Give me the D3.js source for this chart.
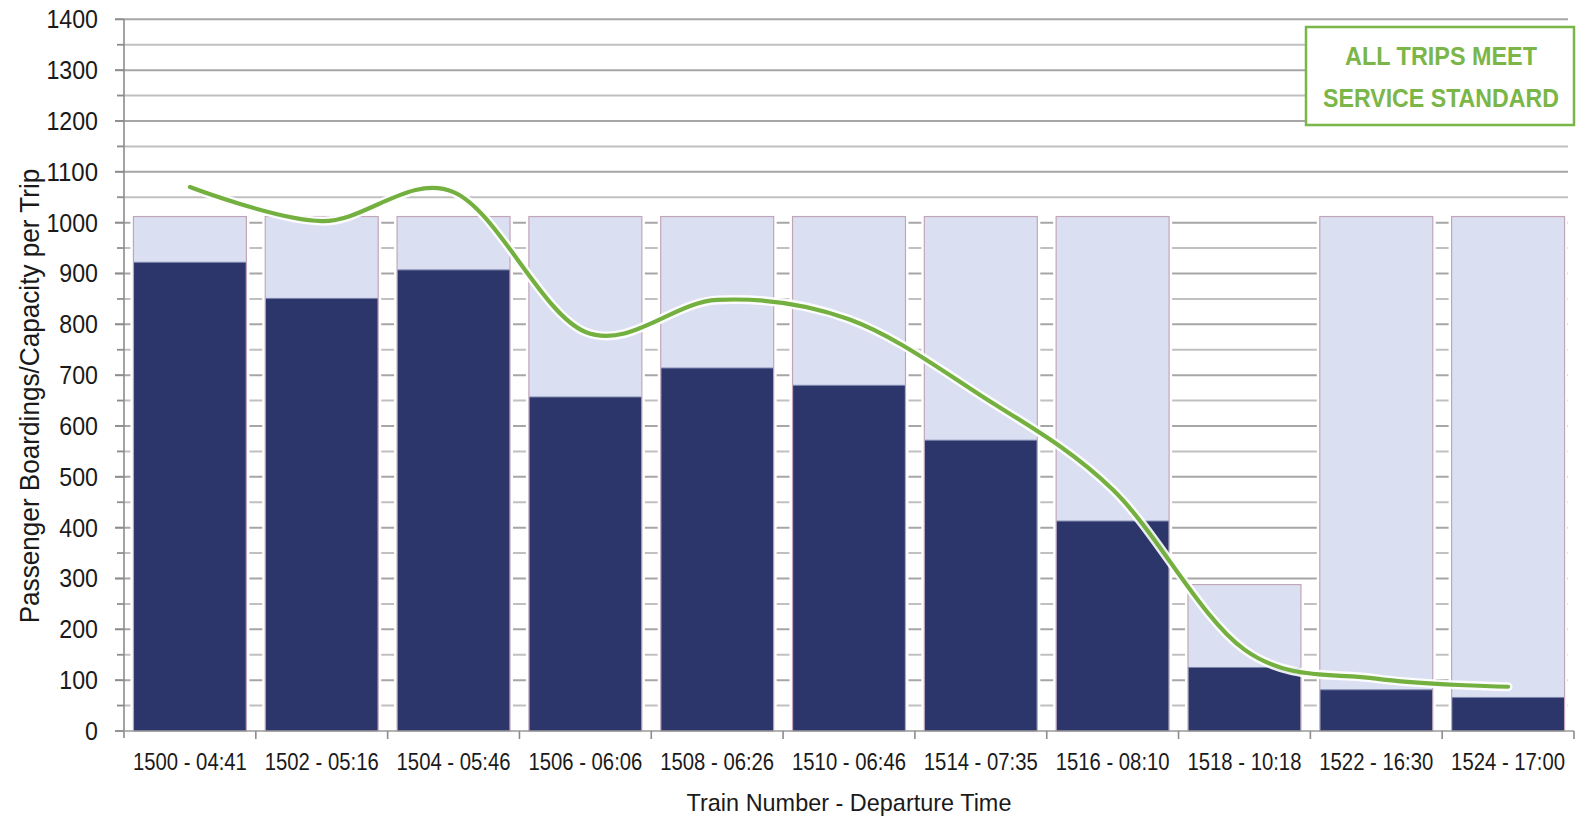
<!DOCTYPE html>
<html>
<head>
<meta charset="utf-8">
<script src="https://cdn.jsdelivr.net/npm/d3@7"></script>
<style>
  html, body { margin: 0; padding: 0; background: #fff; }
  svg { display: block; font-family: "Liberation Sans", Arial, sans-serif; }
</style>
</head>
<body>
<svg id="chart" width="1576" height="821"></svg>
<script>
const categories = ["1500 - 04:41","1502 - 05:16","1504 - 05:46","1506 - 06:06","1508 - 06:26","1510 - 06:46","1514 - 07:35","1516 - 08:10","1518 - 10:18","1522 - 16:30","1524 - 17:00"];
const capacity  = [1012,1012,1012,1012,1012,1012,1012,1012,288,1012,1012];
const boardings = [922,851,907,657,714,680,572,413,125,81,66];
const peakLoad  = [1070,1003,1060,785,848,810,660,475,160,103,87];
const yTicks = [0,100,200,300,400,500,600,700,800,900,1000,1100,1200,1300,1400];
const yMinorTicks = [50,150,250,350,450,550,650,750,850,950,1050,1150,1250,1350];
const xTitle = "Train Number - Departure Time";
const yTitle = "Passenger Boardings/Capacity per Trip";
const noteLines = ["ALL TRIPS MEET", "SERVICE STANDARD"];

(function () {
const svg = d3.select("#chart");
const pLeft = 124, pRight = 1574, pTop = 19.3, pBottom = 731;

const x = d3.scaleBand().domain(categories).range([pLeft, pRight]).paddingInner(0.143).paddingOuter(0.0715);
const y = d3.scaleLinear().domain([0, 1400]).range([pBottom, pTop]);

// helper: squeeze text horizontally to a target width
function fitText(sel, tx, ty, target, rotate) {
  sel.each(function (d, i) {
    const node = this;
    const w = node.getComputedTextLength();
    const t = typeof target === "function" ? target(d, i) : target;
    const s = Math.min(1, t / w);
    const X = typeof tx === "function" ? tx(d, i) : tx;
    const Y = typeof ty === "function" ? ty(d, i) : ty;
    d3.select(node).attr("x", 0).attr("y", 0)
      .attr("transform", `translate(${X},${Y})${rotate ? " rotate(-90)" : ""} scale(${s},1)`);
  });
}

// gridlines
const grid = svg.append("g");
grid.selectAll("line.minor").data(yMinorTicks).join("line")
  .attr("x1", 117).attr("x2", 1568)
  .attr("y1", d => y(d)).attr("y2", d => y(d))
  .attr("stroke", "#c0c0c0").attr("stroke-width", 2);
grid.selectAll("line.major").data(yTicks.filter(d => d > 0)).join("line")
  .attr("x1", 115).attr("x2", 1568)
  .attr("y1", d => y(d)).attr("y2", d => y(d))
  .attr("stroke", "#a6a6a6").attr("stroke-width", 2);

// bars
const data = categories.map((c, i) => ({c, cap: capacity[i], b: boardings[i], p: peakLoad[i]}));
const bars = svg.append("g");
bars.selectAll("rect.halo").data(data).join("rect")
  .attr("x", d => x(d.c) - 3).attr("width", x.bandwidth() + 6)
  .attr("y", d => y(d.cap) - 3).attr("height", d => pBottom - y(d.cap) + 3)
  .attr("fill", "#fff");
bars.selectAll("rect.cap").data(data).join("rect")
  .attr("x", d => x(d.c)).attr("width", x.bandwidth())
  .attr("y", d => y(d.cap)).attr("height", d => pBottom - y(d.cap))
  .attr("fill", "#dae0f2").attr("stroke", "#c2a6b8").attr("stroke-width", 1.2);
bars.selectAll("rect.board").data(data).join("rect")
  .attr("x", d => x(d.c) + 0.6).attr("width", x.bandwidth() - 1.2)
  .attr("y", d => y(d.b)).attr("height", d => pBottom - y(d.b))
  .attr("fill", "#2d366b");
bars.selectAll("line.btop").data(data).join("line")
  .attr("x1", d => x(d.c) + 0.6).attr("x2", d => x(d.c) + x.bandwidth() - 0.6)
  .attr("y1", d => y(d.b)).attr("y2", d => y(d.b))
  .attr("stroke", "#7d86ad").attr("stroke-width", 1);

// axes
const ax = svg.append("g");
ax.append("line").attr("x1", pLeft).attr("x2", pLeft).attr("y1", pTop).attr("y2", pBottom + 7)
  .attr("stroke", "#8c8c8c").attr("stroke-width", 1.6);
ax.append("line").attr("x1", 115).attr("x2", 1574).attr("y1", pBottom).attr("y2", pBottom)
  .attr("stroke", "#9a9a9a").attr("stroke-width", 1.6);
ax.selectAll("line.yt").data(yTicks).join("line")
  .attr("x1", 115).attr("x2", pLeft).attr("y1", d => y(d)).attr("y2", d => y(d))
  .attr("stroke", "#8c8c8c").attr("stroke-width", 1.6);
ax.selectAll("line.ymt").data(yMinorTicks).join("line")
  .attr("x1", 117).attr("x2", pLeft).attr("y1", d => y(d)).attr("y2", d => y(d))
  .attr("stroke", "#8c8c8c").attr("stroke-width", 1.4);
const step = x.step();
const off = x(categories[0]) - pLeft;
ax.selectAll("line.xt").data(categories).join("line")
  .attr("x1", d => x(d) - off + step).attr("x2", d => x(d) - off + step)
  .attr("y1", pBottom).attr("y2", pBottom + 8)
  .attr("stroke", "#8c8c8c").attr("stroke-width", 1.6);

// y labels
ax.selectAll("text.yl").data(yTicks).join("text")
  .attr("text-anchor", "end").attr("font-size", 25).attr("fill", "#1a1a1a")
  .text(d => d)
  .call(fitText, 98, d => y(d) + 9, d => String(d).length * 12.9);

// x labels
ax.selectAll("text.xl").data(categories).join("text")
  .attr("text-anchor", "middle").attr("font-size", 24).attr("fill", "#1a1a1a")
  .text(d => d)
  .call(fitText, d => x(d) + x.bandwidth() / 2, 770, 114);

// titles
svg.append("text")
  .attr("text-anchor", "middle").attr("font-size", 24).attr("fill", "#1a1a1a")
  .text(xTitle)
  .call(fitText, 849, 811, 325);
svg.append("text")
  .attr("text-anchor", "middle").attr("font-size", 27).attr("fill", "#1a1a1a")
  .text(yTitle)
  .call(fitText, 39, 396, 455, true);

// line
const line = d3.line()
  .x(d => x(d.c) + x.bandwidth() / 2)
  .y(d => y(d.p))
  .curve(d3.curveCardinal.tension(0));
svg.append("path").datum(data).attr("d", line)
  .attr("fill", "none").attr("stroke", "#fff").attr("stroke-width", 9)
  .attr("stroke-linecap", "round").attr("stroke-opacity", 0.9);
svg.append("path").datum(data).attr("d", line)
  .attr("fill", "none").attr("stroke", "#74b03f").attr("stroke-width", 4.2)
  .attr("stroke-linecap", "round");

// note box
const note = svg.append("g");
note.append("rect").attr("x", 1306).attr("y", 27).attr("width", 268).attr("height", 98)
  .attr("fill", "#fff").attr("stroke", "#7ab648").attr("stroke-width", 2.5);
note.selectAll("text").data(noteLines).join("text")
  .attr("text-anchor", "middle").attr("font-size", 25).attr("font-weight", "bold")
  .attr("fill", "#7ab648")
  .text(d => d)
  .call(fitText, 1441, (d, i) => 65 + i * 41.5, (d, i) => i === 0 ? 192 : 236);
})();
</script>
</body>
</html>
